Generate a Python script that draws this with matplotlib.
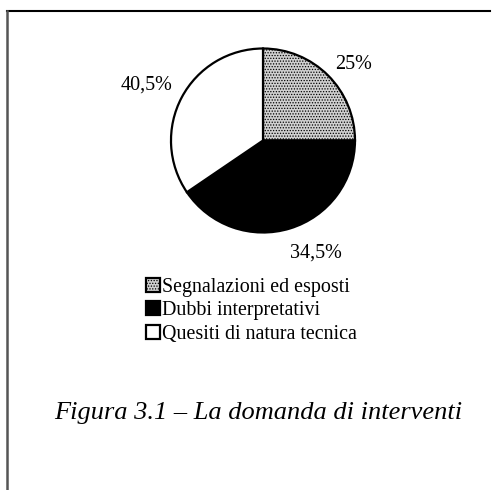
import matplotlib
matplotlib.use("Agg")
import matplotlib.pyplot as plt
from matplotlib.lines import Line2D

# dati (ampiezze delle fette come disegnate nel grafico)
categorie = ["Segnalazioni ed esposti", "Dubbi interpretativi", "Quesiti di natura tecnica"]
valori = [25, 40.5, 34.5]
etichette = ["25%", "34,5%", "40,5%"]
colori = ["#d0d0d0", "black", "white"]
# posizione delle etichette (in raggi, rispetto al centro della torta)
pos_etichette = [(0.98, 0.83), (0.58, -1.22), (-1.27, 0.60)]

plt.rcParams['font.family'] = ['Liberation Serif', 'DejaVu Serif']
plt.rcParams['hatch.color'] = '#9a9a9a'
plt.rcParams['hatch.linewidth'] = 0.6

fig = plt.figure(figsize=(4.92, 4.90), dpi=100)

# cornice (solo lato superiore e sinistro)
fig.add_artist(Line2D([7/492, 490/492], [1-11/490, 1-11/490], color='black', lw=1.5))
fig.add_artist(Line2D([7/492, 7/492], [1-11/490, 0], color='#555555', lw=1.8))

ax = fig.add_axes([(263-92)/492, (490-140.5-92)/490, 184/492, 184/490])
spicchi, testi = ax.pie(valori, colors=colori, startangle=90, counterclock=False,
                        labels=etichette, labeldistance=1.32,
                        wedgeprops=dict(edgecolor='black', linewidth=1.6),
                        textprops=dict(fontsize=14.5))
spicchi[0].set_hatch('......')
for t, p in zip(testi, pos_etichette):
    t.set_position(p)
    t.set_ha('center')
    t.set_va('center')
ax.set_xlim(-1, 1)
ax.set_ylim(-1, 1)
ax.axis('off')

fig.legend(spicchi, categorie, loc='upper left', bbox_to_anchor=(138/492, 1-270/490),
           frameon=False, fontsize=14.4, handlelength=0.7, handleheight=0.7,
           handletextpad=0.12, labelspacing=0.22, borderaxespad=0)

fig.text(258/492, 1-413/490, "Figura 3.1 – La domanda di interventi",
         ha='center', va='center', fontsize=19, style='italic')

fig.savefig("out.png", dpi=100)
